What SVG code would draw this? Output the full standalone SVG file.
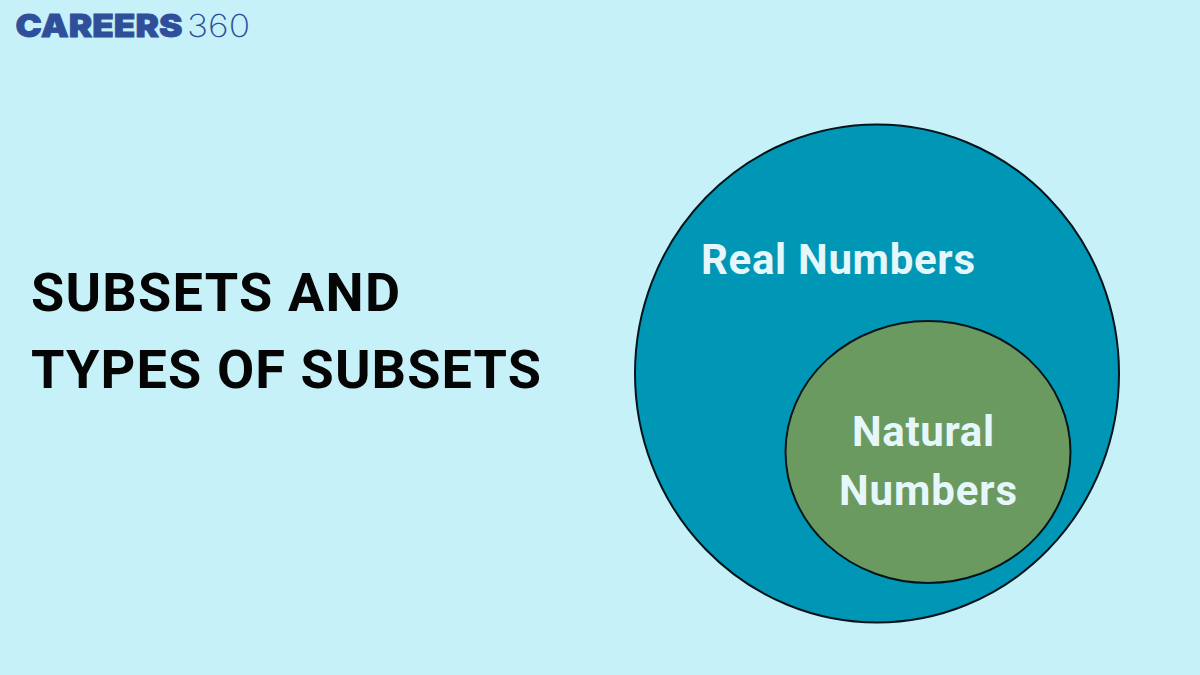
<svg xmlns="http://www.w3.org/2000/svg" width="1200" height="675" viewBox="0 0 1200 675">
<style>
.t{font-family:Roboto,"Liberation Sans",sans-serif;font-weight:700}
.h{font-size:54px;fill:#050505}
.l{font-size:42px;fill:#e6f7fb}
.c{stroke:#05141a;stroke-width:2}
.g{font-family:Inter,"Liberation Sans",sans-serif;font-size:32px;fill:#2f4f9a}
</style>
<rect width="1200" height="675" fill="#c6f1f9"/>
<g id="logo"><text class="g" x="15.500" y="37" font-weight="900" stroke="#2f4f9a" stroke-width=".8" textLength="167" lengthAdjust="spacingAndGlyphs">CAREERS</text><text class="g" x="187" y="37" font-weight="200" textLength="63" lengthAdjust="spacingAndGlyphs">360</text></g>
<g id="title"><text class="t h" x="31" y="311" textLength="369">SUBSETS AND</text><text class="t h" x="31" y="388" textLength="510">TYPES OF SUBSETS</text></g>
<g id="real-numbers"><ellipse class="c" cx="877" cy="373.500" rx="242" ry="249" fill="#0097b6"/><text class="t l" x="701" y="274" textLength="274">Real Numbers</text></g>
<g id="natural-numbers"><ellipse class="c" cx="928" cy="452" rx="142.500" ry="131" fill="#6a9a5f"/><text class="t l" x="852" y="446" textLength="142">Natural</text><text class="t l" x="839" y="505" textLength="178">Numbers</text></g>
</svg>
